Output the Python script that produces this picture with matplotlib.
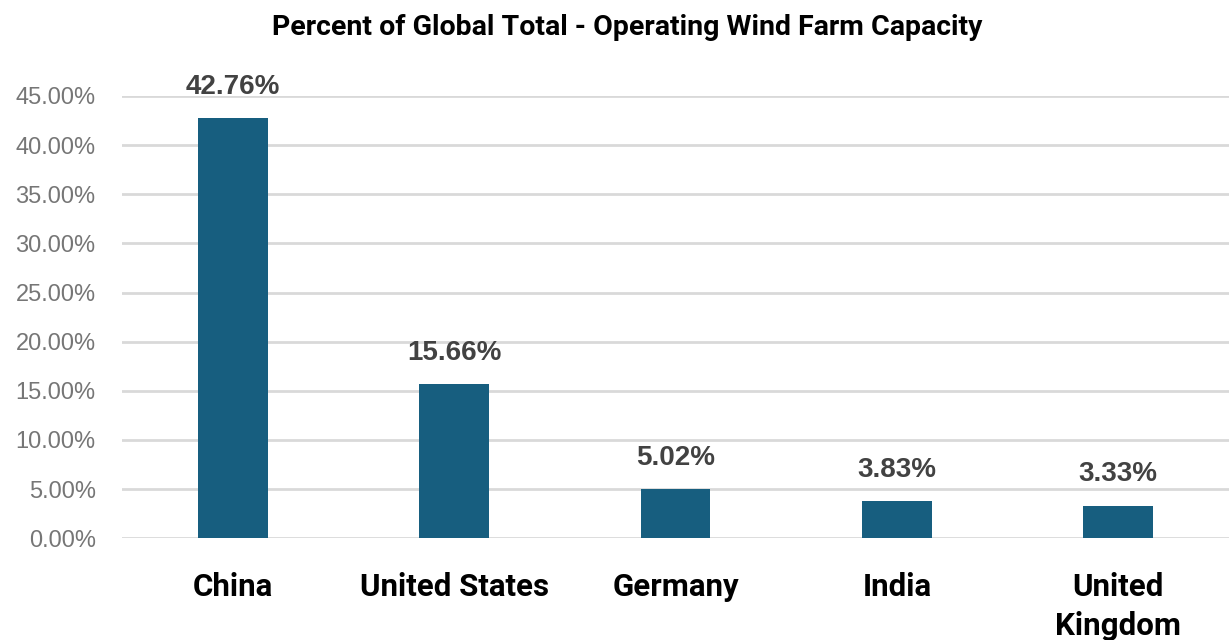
import matplotlib.pyplot as plt
import numpy as np

countries = ['China', 'United States', 'Germany', 'India', 'United\nKingdom']
share = [42.76, 15.66, 5.02, 3.83, 3.33]
yticks = [0, 5, 10, 15, 20, 25, 30, 35, 40, 45]

bar_color = '#175e7f'
grid_color = '#d9d9d9'

fig = plt.figure(figsize=(12.29, 6.4), dpi=100)
ax = fig.add_axes([0.0993, 0.159, 0.9007, 0.691])

x = np.arange(len(countries))
ax.bar(x, share, width=0.315, color=bar_color, zorder=3)

for xi, v in zip(x, share):
    ax.annotate(f'{v:.2f}%', (xi, v), xytext=(0, 13), textcoords='offset points',
                ha='center', va='bottom', fontsize=20, fontweight='bold',
                color='#424242', family='Liberation Sans')

ax.set_xlim(-0.5, 4.5)
ax.set_ylim(0, 45)
ax.set_yticks(yticks)
ax.set_yticklabels([f'{t:.2f}%' for t in yticks], fontsize=17, color='#767676',
                   family='Liberation Sans')
ax.tick_params(axis='y', length=0, pad=19)
ax.yaxis.grid(True, color=grid_color, linewidth=2, zorder=0)

ax.set_xticks(x)
ax.set_xticklabels(countries, fontsize=22.5, fontweight='bold', family='Roboto',
                   linespacing=1.35, va='top')
ax.tick_params(axis='x', length=0, pad=24.5)

for s in ax.spines.values():
    s.set_visible(False)

fig.text(0.51, 0.957, 'Percent of Global Total - Operating Wind Farm Capacity',
         ha='center', va='center', fontsize=20.5, fontweight='bold', family='Roboto')

fig.savefig('out.png', dpi=100)
